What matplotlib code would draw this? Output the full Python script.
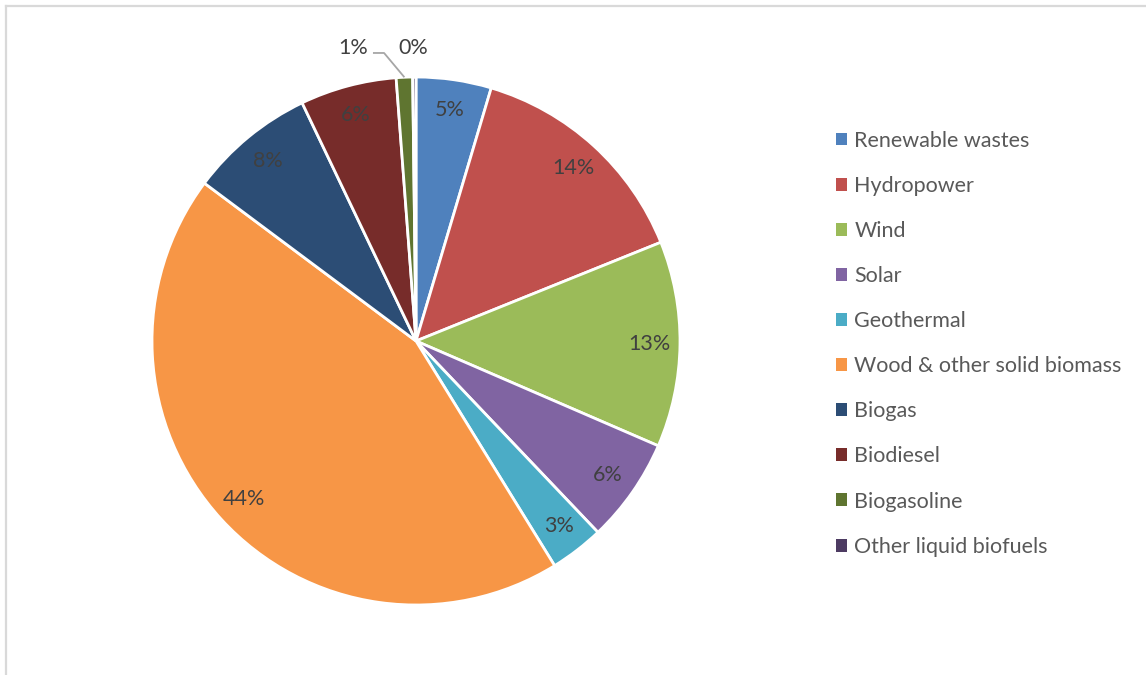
import numpy as np
import matplotlib
matplotlib.use("Agg")
import matplotlib.pyplot as plt
from matplotlib.patches import Patch
from matplotlib.lines import Line2D

categories = ["Renewable wastes", "Hydropower", "Wind", "Solar", "Geothermal",
              "Wood & other solid biomass", "Biogas", "Biodiesel", "Biogasoline",
              "Other liquid biofuels"]
shares = [4.6, 14.3, 12.6, 6.4, 3.3, 44.0, 7.7, 5.9, 1.0, 0.2]
colors = ["#4F81BD", "#C0504D", "#9BBB59", "#8064A2", "#4BACC6", "#F79646",
          "#2C4D75", "#772C2A", "#5F7530", "#4D3B62"]

plt.rcParams["font.family"] = ["Lato", "DejaVu Sans"]

W, H = 1146, 675
fig = plt.figure(figsize=(W / 100, H / 100), dpi=100)
fig.patch.set_facecolor("white")

# pie axes: centre (416, 341) px, radius 264 px
cx, cy, r = 416, 341, 264
ax = fig.add_axes([(cx - r) / W, (H - cy - r) / H, 2 * r / W, 2 * r / H])

wedges, texts, autotexts = ax.pie(
    shares, colors=colors, startangle=90, counterclock=False,
    autopct="%.0f%%", pctdistance=0.885,
    wedgeprops=dict(edgecolor="white", linewidth=2.0),
    textprops=dict(color="#404040", fontsize=15.5),
)
ax.set_xlim(-1, 1)
ax.set_ylim(-1, 1)
ax.set_aspect("equal")

# small slices get their labels outside the pie
def mid_angle(w):
    return np.deg2rad((w.theta1 + w.theta2) / 2)

a8 = mid_angle(wedges[8])
ex, ey = np.cos(a8), np.sin(a8)
elbow = (ex - 0.077, 1.091)
ax.plot([ex, elbow[0], elbow[0] - 0.042], [ey, elbow[1], elbow[1]],
        color="#A6A6A6", lw=1.3, clip_on=False, solid_capstyle="butt")
autotexts[8].set_position((elbow[0] - 0.062, elbow[1] + 0.02))
autotexts[8].set_ha("right")
autotexts[8].set_va("center")

a9 = mid_angle(wedges[9])
autotexts[9].set_position((np.cos(a9) - 0.004, 1.109))
autotexts[9].set_ha("center")
autotexts[9].set_va("center")

handles = [Patch(facecolor=c, edgecolor="none") for c in colors]
fig.legend(handles, categories, loc="upper left",
           bbox_to_anchor=(827 / W, 1 - 122 / H), frameon=False,
           fontsize=15.5, labelcolor="#595959",
           handlelength=0.55, handleheight=0.55, handletextpad=0.32,
           labelspacing=1.167, borderaxespad=0)

# chart area border (top and left edges visible)
fig.add_artist(Line2D([6 / W, 1], [1 - 6 / H, 1 - 6 / H], color="#D9D9D9",
                      lw=1.6, transform=fig.transFigure))
fig.add_artist(Line2D([6 / W, 6 / W], [0, 1 - 6 / H], color="#D9D9D9",
                      lw=1.6, transform=fig.transFigure))

fig.savefig("out.png", dpi=100, facecolor="white")
